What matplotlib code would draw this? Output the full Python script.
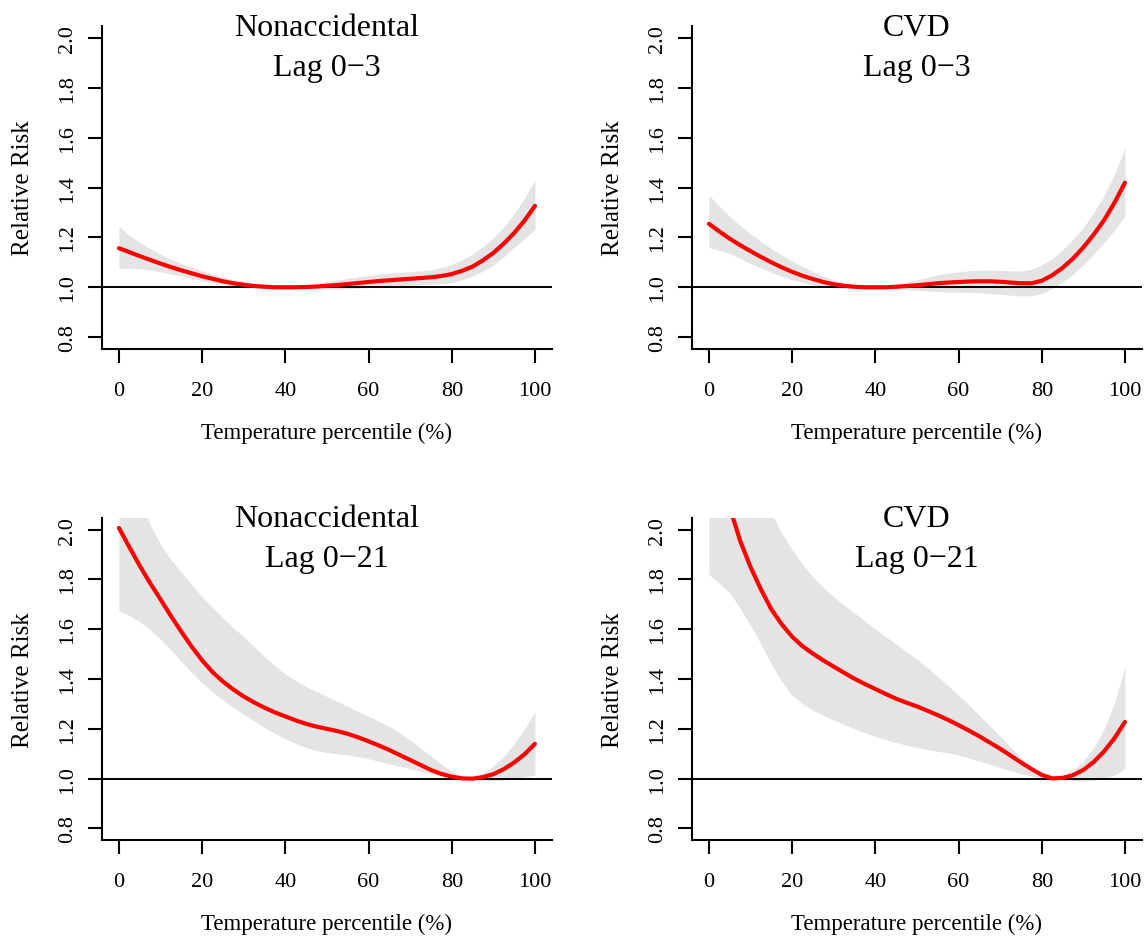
import matplotlib.pyplot as plt

plt.rcParams['font.family'] = ['Liberation Serif', 'DejaVu Serif']

# temperature percentile (%) at which the curves were read
pct = [i * 2.5 for i in range(41)]

# Nonaccidental, lag 0-3
na3_rr = [1.157, 1.141, 1.125, 1.110, 1.095, 1.081, 1.068, 1.056, 1.044, 1.034, 1.024,
          1.016, 1.010, 1.005, 1.002, 1.000, 1.000, 1.000, 1.001, 1.003, 1.006, 1.009,
          1.013, 1.017, 1.021, 1.025, 1.028, 1.031, 1.034, 1.037, 1.040, 1.045, 1.053,
          1.066, 1.083, 1.108, 1.138, 1.175, 1.218, 1.268, 1.327]
na3_hi = [1.245, 1.208, 1.180, 1.154, 1.132, 1.112, 1.095, 1.080, 1.066, 1.053, 1.042,
          1.032, 1.024, 1.015, 1.008, 1.003, 1.000, 1.001, 1.006, 1.013, 1.022, 1.029,
          1.036, 1.042, 1.047, 1.052, 1.056, 1.060, 1.063, 1.066, 1.070, 1.079, 1.092,
          1.110, 1.133, 1.163, 1.198, 1.243, 1.295, 1.358, 1.430]
na3_lo = [1.075, 1.076, 1.074, 1.069, 1.062, 1.054, 1.045, 1.035, 1.026, 1.017, 1.010,
          1.004, 1.000, 0.998, 0.997, 0.998, 1.000, 0.999, 0.996, 0.993, 0.992, 0.992,
          0.994, 0.996, 0.998, 1.000, 1.002, 1.004, 1.006, 1.009, 1.012, 1.014, 1.018,
          1.030, 1.045, 1.065, 1.090, 1.122, 1.160, 1.195, 1.233]

# CVD, lag 0-3
cvd3_rr = [1.255, 1.224, 1.195, 1.169, 1.145, 1.122, 1.100, 1.080, 1.062, 1.046, 1.033,
           1.021, 1.012, 1.006, 1.002, 1.000, 1.000, 1.000, 1.002, 1.005, 1.008, 1.012,
           1.016, 1.019, 1.021, 1.023, 1.024, 1.024, 1.022, 1.019, 1.016, 1.016, 1.026,
           1.048, 1.078, 1.115, 1.160, 1.212, 1.270, 1.340, 1.420]
cvd3_hi = [1.370, 1.325, 1.285, 1.248, 1.215, 1.184, 1.155, 1.129, 1.105, 1.083, 1.063,
           1.045, 1.030, 1.017, 1.008, 1.002, 1.000, 1.004, 1.010, 1.020, 1.030, 1.040,
           1.050, 1.057, 1.062, 1.066, 1.068, 1.069, 1.068, 1.066, 1.065, 1.072, 1.090,
           1.115, 1.150, 1.192, 1.240, 1.300, 1.370, 1.455, 1.560]
cvd3_lo = [1.160, 1.148, 1.135, 1.116, 1.095, 1.077, 1.060, 1.044, 1.030, 1.019, 1.010,
           1.003, 0.998, 0.996, 0.996, 0.998, 1.000, 0.997, 0.994, 0.991, 0.988, 0.985,
           0.983, 0.981, 0.980, 0.979, 0.978, 0.975, 0.972, 0.968, 0.965, 0.966, 0.975,
           0.995, 1.020, 1.052, 1.090, 1.133, 1.180, 1.230, 1.285]

# Nonaccidental, lag 0-21
na21_rr = [2.007, 1.930, 1.855, 1.785, 1.720, 1.653, 1.590, 1.530, 1.475, 1.428, 1.390,
           1.358, 1.330, 1.306, 1.285, 1.266, 1.250, 1.234, 1.220, 1.209, 1.200, 1.191,
           1.180, 1.166, 1.150, 1.133, 1.115, 1.095, 1.075, 1.055, 1.035, 1.019, 1.008,
           1.001, 1.000, 1.006, 1.018, 1.038, 1.065, 1.098, 1.140]
na21_hi = [2.450, 2.270, 2.120, 2.020, 1.940, 1.880, 1.830, 1.780, 1.730, 1.687, 1.645,
           1.606, 1.570, 1.530, 1.490, 1.454, 1.420, 1.393, 1.370, 1.350, 1.330, 1.310,
           1.290, 1.270, 1.250, 1.230, 1.210, 1.184, 1.155, 1.123, 1.090, 1.058, 1.030,
           1.010, 1.005, 1.022, 1.050, 1.090, 1.140, 1.200, 1.270]
na21_lo = [1.675, 1.655, 1.630, 1.598, 1.560, 1.516, 1.470, 1.426, 1.385, 1.348, 1.315,
           1.286, 1.260, 1.232, 1.205, 1.181, 1.160, 1.141, 1.125, 1.113, 1.105, 1.100,
           1.095, 1.088, 1.080, 1.070, 1.060, 1.050, 1.040, 1.030, 1.020, 1.011, 1.004,
           1.000, 0.997, 0.993, 0.992, 0.995, 1.000, 1.007, 1.015]

# CVD, lag 0-21
cvd21_rr = [2.500, 2.280, 2.090, 1.955, 1.850, 1.760, 1.680, 1.620, 1.570, 1.532, 1.502,
            1.475, 1.450, 1.425, 1.401, 1.380, 1.360, 1.340, 1.321, 1.305, 1.290, 1.273,
            1.255, 1.236, 1.215, 1.193, 1.170, 1.145, 1.120, 1.093, 1.065, 1.039, 1.015,
            1.001, 1.003, 1.014, 1.035, 1.067, 1.110, 1.163, 1.228]
cvd21_hi = [3.100, 2.950, 2.800, 2.630, 2.450, 2.260, 2.070, 1.985, 1.920, 1.862, 1.810,
            1.768, 1.730, 1.697, 1.665, 1.633, 1.600, 1.570, 1.540, 1.510, 1.480, 1.447,
            1.410, 1.373, 1.335, 1.296, 1.255, 1.213, 1.170, 1.127, 1.085, 1.050, 1.020,
            1.003, 1.008, 1.033, 1.070, 1.125, 1.200, 1.305, 1.450]
cvd21_lo = [1.820, 1.785, 1.745, 1.685, 1.615, 1.540, 1.460, 1.390, 1.335, 1.300, 1.275,
            1.254, 1.235, 1.217, 1.200, 1.184, 1.170, 1.157, 1.145, 1.134, 1.125, 1.117,
            1.110, 1.103, 1.095, 1.083, 1.070, 1.058, 1.045, 1.032, 1.020, 1.010, 1.003,
            1.000, 0.997, 0.993, 0.990, 0.994, 1.000, 1.015, 1.040]

titles = [("Nonaccidental", "Lag 0\u22123"), ("CVD", "Lag 0\u22123"),
          ("Nonaccidental", "Lag 0\u221221"), ("CVD", "Lag 0\u221221")]
series = [(na3_rr, na3_lo, na3_hi), (cvd3_rr, cvd3_lo, cvd3_hi),
          (na21_rr, na21_lo, na21_hi), (cvd21_rr, cvd21_lo, cvd21_hi)]

xticks = [0, 20, 40, 60, 80, 100]
yticks = [0.8, 1.0, 1.2, 1.4, 1.6, 1.8, 2.0]

W, H = 1144, 937
fig = plt.figure(figsize=(W / 100, H / 100), dpi=100)

# axes boxes in pixels: (left, bottom measured from top)
boxes = [(102.3, 350), (692.3, 350), (102.3, 841.4), (692.3, 841.4)]
aw, ah = 449.3, 322.7

for (left, bot), (t1, t2), (rr, lo, hi) in zip(boxes, titles, series):
    ax = fig.add_axes([left / W, (H - bot) / H, aw / W, ah / H])
    ax.fill_between(pct, lo, hi, color='#e4e4e4', lw=0)
    ax.axhline(1.0, color='black', lw=1.4)
    ax.plot(pct, rr, color='#ff0000', lw=3.0, solid_capstyle='round',
            solid_joinstyle='round')

    ax.set_xlim(-4, 104)
    ax.set_ylim(0.752, 2.048)
    ax.set_xticks(xticks)
    ax.set_yticks(yticks)
    ax.set_yticklabels([f"{v:.1f}" for v in yticks])
    ax.spines['top'].set_visible(False)
    ax.spines['right'].set_visible(False)
    for s in ('left', 'bottom'):
        ax.spines[s].set_linewidth(1.5)
    ax.tick_params(axis='both', direction='out', length=10, width=1.5, labelsize=16)
    ax.tick_params(axis='x', pad=13)
    ax.tick_params(axis='y', pad=8, labelrotation=90)
    plt.setp(ax.get_yticklabels(), va='center')

    ax.set_xlabel("Temperature percentile (%)", fontsize=16.5)
    ax.xaxis.set_label_coords(0.5, -0.257)
    ax.xaxis.label.set_va('center')
    ax.set_ylabel("Relative Risk", fontsize=18)
    ax.yaxis.set_label_coords(-0.177, 0.5)
    ax.yaxis.label.set_va('center')

    ax.text(0.5, 0.973, t1, transform=ax.transAxes, ha='center', va='baseline', fontsize=23)
    ax.text(0.5, 0.849, t2, transform=ax.transAxes, ha='center', va='baseline', fontsize=23)

fig.savefig('out.png', dpi=100)
